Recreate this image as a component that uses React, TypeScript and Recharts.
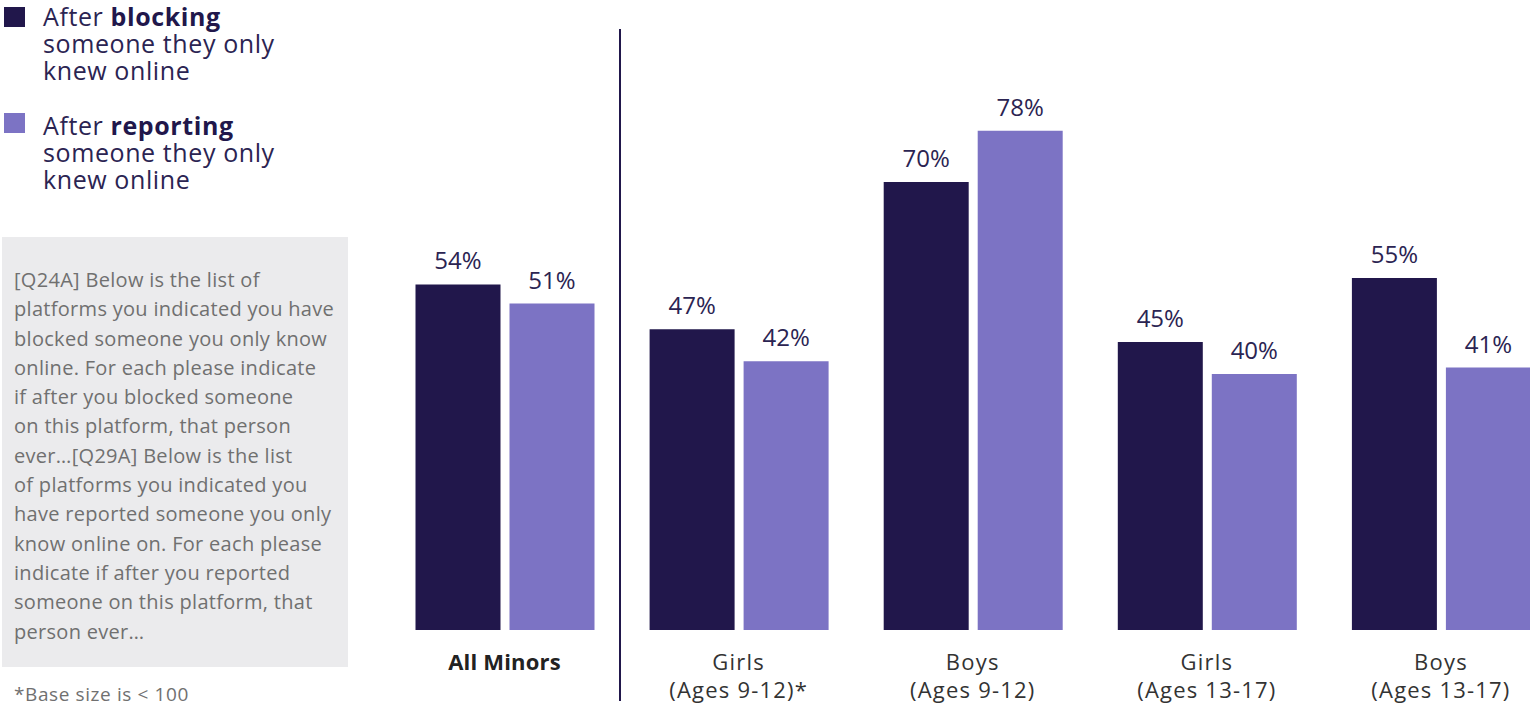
import React from "react";
import { BarChart, Bar, XAxis, YAxis, LabelList } from "recharts";

const categories = ["All Minors", "Girls|(Ages 9-12)*", "Boys|(Ages 9-12)", "Girls|(Ages 13-17)", "Boys|(Ages 13-17)"];
const blocking = [54, 47, 70, 45, 55];
const reporting = [51, 42, 78, 40, 41];
const noteLines = [
  "[Q24A] Below is the list of",
  "platforms you indicated you have",
  "blocked someone you only know",
  "online. For each please indicate",
  "if after you blocked someone",
  "on this platform, that person",
  "ever…[Q29A] Below is the list",
  "of platforms you indicated you",
  "have reported someone you only",
  "know online on. For each please",
  "indicate if after you reported",
  "someone on this platform, that",
  "person ever…",
];

const data = categories.map((c, i) => ({ name: c, blocking: blocking[i], reporting: reporting[i] }));

const DARK = "#21174b";
const LIGHT = "#7c73c4";
const FONT = "'Open Sans', Inter, sans-serif";

const Tick = (props: any) => {
  const { x, y, payload, index } = props;
  const parts = String(payload.value).split("|");
  if (index === 0) {
    return (
      <text x={x} y={y + 32} textAnchor="middle" fontSize={22} fontWeight={700} fill="#222" fontFamily={FONT} letterSpacing={0.2}>
        {parts[0]}
      </text>
    );
  }
  return (
    <g>
      <text x={x} y={y + 32} textAnchor="middle" fontSize={22} fill="#333" fontFamily={FONT} letterSpacing={1.2}>{parts[0]}</text>
      <text x={x} y={y + 60} textAnchor="middle" fontSize={22} fill="#333" fontFamily={FONT} letterSpacing={1.2}>{parts[1]}</text>
    </g>
  );
};

export default function App() {
  return (
    <div style={{ position: "fixed", left: 0, top: 0, width: 1530, height: 706, overflow: "hidden", background: "#fff", fontFamily: FONT }}>
      {/* Legend */}
      <div style={{ position: "absolute", left: 4, top: 7, width: 21, height: 20, background: DARK }} />
      <div style={{ position: "absolute", left: 43, top: 3, fontSize: 25, lineHeight: "27px", letterSpacing: 0.6, color: "#2b2452" }}>
        After <b style={{ color: DARK }}>blocking</b><br />someone they only<br />knew online
      </div>
      <div style={{ position: "absolute", left: 4, top: 113, width: 21, height: 20, background: LIGHT }} />
      <div style={{ position: "absolute", left: 43, top: 112, fontSize: 25, lineHeight: "27px", letterSpacing: 0.6, color: "#2b2452" }}>
        After <b style={{ color: DARK }}>reporting</b><br />someone they only<br />knew online
      </div>
      {/* Note box */}
      <div style={{ position: "absolute", left: 2, top: 237, width: 346, height: 430, background: "#ebebed" }}>
        <div style={{ position: "absolute", left: 12, top: 28, fontSize: 20, lineHeight: "29.3px", letterSpacing: 0.3, color: "#707070", whiteSpace: "pre" }}>
          {noteLines.map((l, i) => (<div key={i}>{l}</div>))}
        </div>
      </div>
      <div style={{ position: "absolute", left: 14, top: 683, fontSize: 19, lineHeight: "22px", letterSpacing: 0.6, color: "#707070", whiteSpace: "pre" }}>*Base size is &lt; 100</div>
      {/* Divider */}
      <div style={{ position: "absolute", left: 619, top: 29, width: 2, height: 672, background: DARK }} />
      {/* Chart */}
      <div style={{ position: "absolute", left: 0, top: 0 }}>
        <BarChart width={1558} height={706} data={data} margin={{ top: 54, right: 0, bottom: 0, left: 387.5 }} barSize={85} barGap={9}>
          <YAxis hide domain={[0, 90]} />
          <XAxis dataKey="name" height={76} axisLine={false} tickLine={false} tick={<Tick />} interval={0} />
          <Bar dataKey="blocking" fill={DARK} isAnimationActive={false}>
            <LabelList dataKey="blocking" position="top" offset={15} formatter={(v: any) => `${v}%`} fill="#2b2452" fontSize={24} fontFamily={FONT} />
          </Bar>
          <Bar dataKey="reporting" fill={LIGHT} isAnimationActive={false}>
            <LabelList dataKey="reporting" position="top" offset={15} formatter={(v: any) => `${v}%`} fill="#2b2452" fontSize={24} fontFamily={FONT} />
          </Bar>
        </BarChart>
      </div>
    </div>
  );
}
